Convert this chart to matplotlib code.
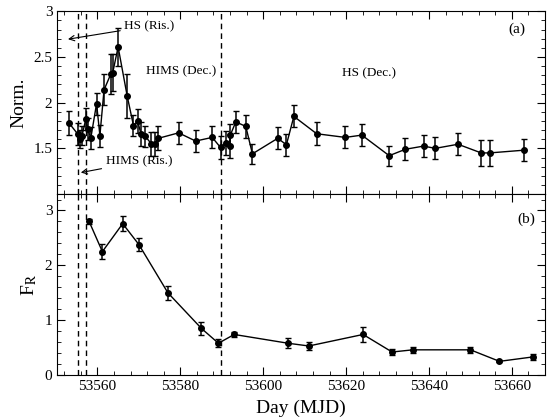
import matplotlib
matplotlib.use('Agg')
import matplotlib.pyplot as plt
from matplotlib.ticker import MultipleLocator

plt.rcParams['font.family'] = ['Liberation Serif', 'DejaVu Serif']
plt.rcParams['mathtext.fontset'] = 'stix'

# panel (a): normalised values
day_a = [53553.1, 53555.2, 53555.8, 53556.3, 53557.2, 53557.7, 53558.4, 53559.8,
         53560.6, 53561.6, 53563.2, 53563.7, 53565.0, 53567.2, 53568.7, 53569.7,
         53570.5, 53571.6, 53573.0, 53573.9, 53574.7, 53579.6, 53583.7, 53587.7,
         53589.7, 53591.0, 53591.9, 53592.1, 53593.4, 53595.8, 53597.4, 53603.5,
         53605.6, 53607.4, 53612.9, 53619.8, 53623.8, 53630.4, 53634.3, 53638.7,
         53641.5, 53647.0, 53652.6, 53654.6, 53662.9]
norm = [1.78, 1.66, 1.60, 1.64, 1.82, 1.71, 1.61, 1.99,
        1.64, 2.14, 2.31, 2.33, 2.61, 2.07, 1.75, 1.80,
        1.66, 1.63, 1.55, 1.55, 1.61, 1.67, 1.58, 1.62,
        1.51, 1.56, 1.53, 1.65, 1.79, 1.74, 1.44, 1.61,
        1.54, 1.85, 1.66, 1.62, 1.645, 1.42, 1.49, 1.525,
        1.50, 1.545, 1.45, 1.45, 1.48]
norm_err = [0.13, 0.12, 0.10, 0.10, 0.12, 0.12, 0.12, 0.12,
            0.12, 0.17, 0.22, 0.20, 0.21, 0.24, 0.12, 0.13,
            0.13, 0.12, 0.13, 0.13, 0.13, 0.12, 0.12, 0.12,
            0.13, 0.13, 0.13, 0.12, 0.12, 0.13, 0.11, 0.12,
            0.12, 0.12, 0.125, 0.12, 0.12, 0.11, 0.12, 0.12,
            0.12, 0.12, 0.14, 0.14, 0.12]

# panel (b): F_R
day_b = [53558.0, 53561.2, 53566.1, 53570.0, 53577.0, 53585.1, 53589.2, 53593.0,
         53606.0, 53611.0, 53624.1, 53631.1, 53636.1, 53650.0, 53657.0, 53665.0]
fr = [2.80, 2.25, 2.76, 2.38, 1.50, 0.85, 0.58, 0.74,
      0.58, 0.53, 0.74, 0.42, 0.46, 0.46, 0.25, 0.33]
fr_err = [0.05, 0.14, 0.14, 0.12, 0.13, 0.12, 0.07, 0.05,
          0.09, 0.07, 0.13, 0.06, 0.05, 0.05, 0.02, 0.05]

# state transitions
trans = [53555.35, 53557.2, 53589.7]

fig = plt.figure(figsize=(5.5, 4.2), dpi=100)
ax1 = fig.add_axes([0.104, 0.538, 0.887, 0.435])
ax2 = fig.add_axes([0.104, 0.107, 0.887, 0.431], sharex=ax1)

eb = dict(fmt='o-', color='black', ms=4, lw=1, elinewidth=1.1, capsize=2.5, capthick=1)
ax1.errorbar(day_a, norm, yerr=norm_err, **eb)
ax2.errorbar(day_b, fr, yerr=fr_err, **eb)

for ax in (ax1, ax2):
    for t in trans:
        ax.axvline(t, color='black', ls='--', lw=1, dashes=(4, 3))
    ax.tick_params(which='both', direction='in', top=True, right=True, labelsize=11)
    ax.tick_params(which='major', length=6)
    ax.tick_params(which='minor', length=3)
    ax.xaxis.set_major_locator(MultipleLocator(20))
    ax.xaxis.set_minor_locator(MultipleLocator(4))

ax1.set_xlim(53550.3, 53668)
ax1.set_ylim(1, 3)
ax1.yaxis.set_minor_locator(MultipleLocator(0.1))
ax1.set_yticks([1.5, 2, 2.5, 3])
ax1.set_yticklabels(['1.5', '2', '2.5', '3'])
ax1.tick_params(labelbottom=False)
ax1.set_ylabel('Norm.', fontsize=14)

ax2.set_ylim(0, 3.3)
ax2.yaxis.set_major_locator(MultipleLocator(1))
ax2.yaxis.set_minor_locator(MultipleLocator(0.2))
ax2.set_ylabel(r'F$_\mathrm{R}$', fontsize=14)
ax2.set_xlabel('Day (MJD)', fontsize=14, labelpad=5)

ax1.annotate('HS (Ris.)', xy=(53552.9, 2.695), xytext=(53566.5, 2.84),
             fontsize=9.5, va='center', ha='left',
             arrowprops=dict(arrowstyle='->', color='black', lw=0.8, shrinkA=1, shrinkB=0))
ax1.annotate('HIMS (Ris.)', xy=(53556.0, 1.235), xytext=(53562.0, 1.355),
             fontsize=9.5, va='center', ha='left',
             arrowprops=dict(arrowstyle='->', color='black', lw=0.8, shrinkA=1, shrinkB=0))
ax1.text(53580.1, 2.34, 'HIMS (Dec.)', fontsize=9.5, ha='center', va='center')
ax1.text(53625.5, 2.32, 'HS (Dec.)', fontsize=9.5, ha='center', va='center')
ax1.text(0.96, 0.9, '(a)', transform=ax1.transAxes, fontsize=11, ha='right', va='center')
ax2.text(0.98, 0.86, '(b)', transform=ax2.transAxes, fontsize=11, ha='right', va='center')

fig.savefig('out.png', dpi=100)
